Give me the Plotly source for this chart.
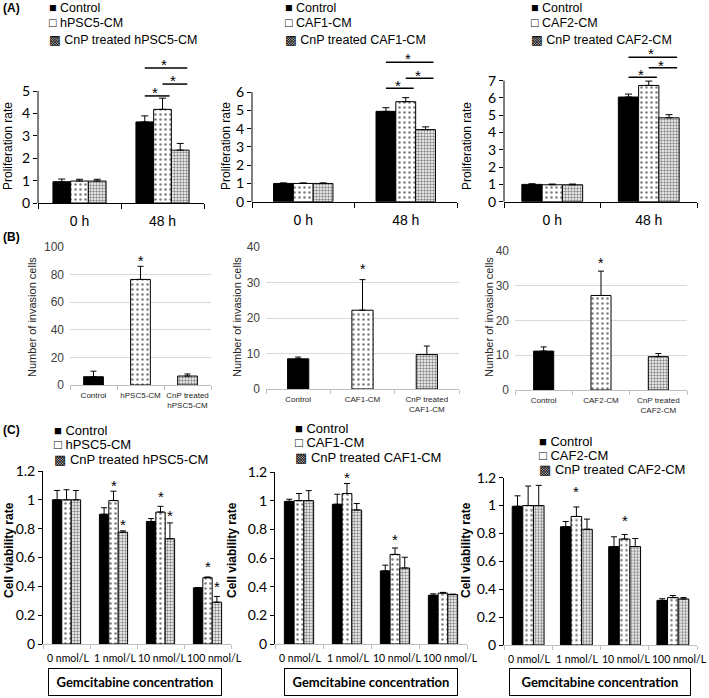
import plotly.graph_objects as go

W, H = 709, 698

# ---------------- data ----------------
time_points = ["0 h", "48 h"]
doses = ["0 nmol/L", "1 nmol/L", "10 nmol/L", "100 nmol/L"]

names_1 = ["Control", "hPSC5-CM", "CnP treated hPSC5-CM"]
names_2 = ["Control", "CAF1-CM", "CnP treated CAF1-CM"]
names_3 = ["Control", "CAF2-CM", "CnP treated CAF2-CM"]
legend_marks = ["■", "□", "▩"]

B_labels_1 = ["Control", "hPSC5-CM", "CnP treated<br>hPSC5-CM"]
B_labels_2 = ["Control", "CAF1-CM", "CnP treated<br>CAF1-CM"]
B_labels_3 = ["Control", "CAF2-CM", "CnP treated<br>CAF2-CM"]

# (A) proliferation rate
A1_control = [0.95, 3.62]
A1_control_err = [0.12, 0.27]
A1_cm = [0.98, 4.18]
A1_cm_err = [0.08, 0.50]
A1_cnp = [0.98, 2.36]
A1_cnp_err = [0.08, 0.30]

A2_control = [1.0, 4.95]
A2_control_err = [0.03, 0.20]
A2_cm = [1.0, 5.48]
A2_cm_err = [0.03, 0.22]
A2_cnp = [1.0, 3.95]
A2_cnp_err = [0.03, 0.15]

A3_control = [1.0, 6.05]
A3_control_err = [0.04, 0.17]
A3_cm = [0.98, 6.72]
A3_cm_err = [0.04, 0.25]
A3_cnp = [0.98, 4.85]
A3_cnp_err = [0.04, 0.18]

# significance brackets at 48 h: (bar i, bar j, line level, star level)
A1_sig = [(0, 1, 4.78, 5.09), (1, 2, 5.31, 5.63), (0, 2, 6.03, 6.34)]
A2_sig = [(0, 1, 6.21, 6.61), (1, 2, 6.76, 7.16), (0, 2, 7.64, 8.08)]
A3_sig = [(0, 1, 7.19, 7.60), (1, 2, 7.74, 8.13), (0, 2, 8.35, 8.81)]

# (B) number of invasion cells
B1_values = [6.0, 76.5, 6.5]
B1_err = [4.0, 9.5, 1.5]
B1_star = 93.0
B2_values = [8.5, 22.2, 9.7]
B2_err = [0.5, 8.6, 2.4]
B2_star = 35.0
B3_values = [11.2, 27.2, 9.6]
B3_err = [1.2, 7.0, 0.9]
B3_star = 37.8

# (C) cell viability rate
C1_control = [1.0, 0.90, 0.85, 0.39]
C1_control_err = [0.065, 0.045, 0.02, 0.0]
C1_cm = [1.0, 0.995, 0.915, 0.46]
C1_cm_err = [0.07, 0.065, 0.04, 0.005]
C1_cnp = [1.0, 0.775, 0.73, 0.29]
C1_cnp_err = [0.065, 0.01, 0.11, 0.04]
C1_stars = [(1, 1, 1.125), (1, 2, 0.854), (2, 1, 1.049), (2, 2, 0.919), (3, 1, 0.565), (3, 2, 0.426)]

C2_control = [0.995, 0.975, 0.51, 0.34]
C2_control_err = [0.015, 0.07, 0.04, 0.01]
C2_cm = [1.0, 1.05, 0.625, 0.355]
C2_cm_err = [0.05, 0.07, 0.045, 0.005]
C2_cnp = [1.0, 0.935, 0.53, 0.345]
C2_cnp_err = [0.07, 0.045, 0.075, 0.003]
C2_stars = [(1, 1, 1.19), (2, 1, 0.76)]

C3_control = [0.995, 0.848, 0.706, 0.32]
C3_control_err = [0.075, 0.038, 0.07, 0.012]
C3_cm = [1.0, 0.922, 0.76, 0.34]
C3_cm_err = [0.14, 0.068, 0.033, 0.015]
C3_cnp = [1.0, 0.83, 0.706, 0.33]
C3_cnp_err = [0.145, 0.073, 0.058, 0.01]
C3_stars = [(1, 1, 1.13), (2, 1, 0.925)]

# ---------------- styling helpers ----------------
ARIAL = "Liberation Sans, Arial, DejaVu Sans, sans-serif"
CALI = "Lato, Carlito, Calibri, sans-serif"

DOTS = dict(shape=".", fgcolor="black", bgcolor="white", size=5, solidity=0.2)
DENSE = dict(shape=".", fgcolor="#111111", bgcolor="white", size=3, solidity=0.5)
DOSE_LABEL_SHIFT = [1, 1, 2, 7]   # px, label nudges as laid out in the original


def bar_marker(k):
    if k == 0:
        return dict(color="black", line=dict(color="black", width=1))
    return dict(color="white", line=dict(color="black", width=1),
                pattern=DOTS if k == 1 else DENSE)


def ids(i):
    return ("x", "y") if i == 1 else (f"x{i}", f"y{i}")


def lkey(letter, i):
    return f"{letter}axis" if i == 1 else f"{letter}axis{i}"


def xdom(p0, p1):
    return [p0 / W, p1 / W]


def ydom(top_px, bottom_px):
    return [1 - bottom_px / H, 1 - top_px / H]


fig = go.Figure()
layout = {}
shapes = []
annotations = []


def grouped_panel(i, cats, series, errors, names, group_frac, cap):
    xid, yid = ids(i)
    n = len(series)
    w = group_frac / n
    xs = list(range(len(cats)))
    for k in range(n):
        fig.add_trace(go.Bar(
            x=xs, y=series[k], width=w, offset=-group_frac / 2 + k * w,
            name=names[k], showlegend=False, xaxis=xid, yaxis=yid,
            marker=bar_marker(k),
            error_y=dict(type="data", array=errors[k], arrayminus=[0] * len(xs),
                         symmetric=False, color="black", thickness=1, width=cap),
        ))

    def center(c, k):
        return c - group_frac / 2 + (k + 0.5) * w
    return center, w


def star(xid, yid, x, y, size=15):
    annotations.append(dict(xref=xid, yref=yid, x=x, y=y, text="*", showarrow=False,
                            font=dict(family=ARIAL, size=size, color="black"),
                            yshift=-4, xanchor="center", yanchor="middle"))


# ---------------- (A) panels ----------------
A_panels = [
    dict(i=1, xpx=(38, 204), zero=203.0, ppu=22.4, top=52, ntick=5,
         series=[A1_control, A1_cm, A1_cnp], errs=[A1_control_err, A1_cm_err, A1_cnp_err],
         names=names_1, sig=A1_sig, gf=0.64),
    dict(i=2, xpx=(252, 457), zero=201.7, ppu=18.25, top=45, ntick=6,
         series=[A2_control, A2_cm, A2_cnp], errs=[A2_control_err, A2_cm_err, A2_cnp_err],
         names=names_2, sig=A2_sig, gf=0.58),
    dict(i=3, xpx=(504, 697), zero=201.7, ppu=17.3, top=40, ntick=7,
         series=[A3_control, A3_cm, A3_cnp], errs=[A3_control_err, A3_cm_err, A3_cnp_err],
         names=names_3, sig=A3_sig, gf=0.63),
]

for p in A_panels:
    i = p["i"]
    xid, yid = ids(i)
    center, w = grouped_panel(i, time_points, p["series"], p["errs"], p["names"], p["gf"], 3.5)
    ncat = len(time_points)
    layout[lkey("x", i)] = dict(
        domain=xdom(*p["xpx"]), range=[-0.5, ncat - 0.5], anchor=yid, automargin=False,
        tickvals=list(range(ncat)), ticktext=time_points, ticks="", tickangle=0,
        showline=True, linecolor="black", linewidth=1, showgrid=False, zeroline=False,
        tickfont=dict(family=ARIAL, size=14, color="black"), ticklabelstandoff=5,
        minor=dict(ticks="outside", tickvals=[c - 0.5 for c in range(ncat + 1)],
                   ticklen=5, tickcolor="black", tickwidth=1, showgrid=False),
    )
    layout[lkey("y", i)] = dict(
        domain=ydom(p["top"], p["zero"]), range=[0, (p["zero"] - p["top"]) / p["ppu"]],
        anchor=xid, automargin=False, tickvals=list(range(p["ntick"] + 1)), ticks="outside",
        ticklen=4, tickcolor="black", showline=False, showgrid=False, zeroline=False,
        tickfont=dict(family=CALI, size=14, color="black"),
    )
    # y axis line only up to the last tick
    shapes.append(dict(type="line", xref=f"{xid} domain", x0=0, x1=0, yref=yid,
                       y0=0, y1=p["ntick"], line=dict(color="black", width=1)))
    for (a, b, lvl, slvl) in p["sig"]:
        x0 = center(1, a)
        x1 = center(1, b) + 0.4 * w
        shapes.append(dict(type="line", xref=xid, yref=yid, x0=x0, x1=x1, y0=lvl, y1=lvl,
                           line=dict(color="black", width=1.5)))
        star(xid, yid, (center(1, a) + center(1, b)) / 2 + 0.1 * w, slvl)

# ---------------- (B) panels ----------------
B_panels = [
    dict(i=4, xpx=(70, 211), ypx=(247, 385), ymax=100, dt=20, vals=B1_values, errs=B1_err,
         labels=B_labels_1, st=B1_star, bf=0.42),
    dict(i=5, xpx=(266, 459), ypx=(247, 389), ymax=40, dt=10, vals=B2_values, errs=B2_err,
         labels=B_labels_2, st=B2_star, bf=0.33),
    dict(i=6, xpx=(515, 687), ypx=(251, 390), ymax=40, dt=10, vals=B3_values, errs=B3_err,
         labels=B_labels_3, st=B3_star, bf=0.35),
]
for p in B_panels:
    i = p["i"]
    xid, yid = ids(i)
    bw = p["bf"]
    for k, (v, e) in enumerate(zip(p["vals"], p["errs"])):
        fig.add_trace(go.Bar(
            x=[k], y=[v], width=bw, offset=-bw / 2, xaxis=xid, yaxis=yid,
            name=p["labels"][k], showlegend=False, marker=bar_marker(k),
            error_y=dict(type="data", array=[e], arrayminus=[0], symmetric=False,
                         color="black", thickness=1, width=3),
        ))
    n = len(p["vals"])
    layout[lkey("x", i)] = dict(
        domain=xdom(*p["xpx"]), range=[-0.5, n - 0.5], anchor=yid, automargin=False,
        tickvals=list(range(n)), ticktext=p["labels"], ticks="", tickangle=0,
        showline=True, linecolor="#bfbfbf", linewidth=1, showgrid=False, zeroline=False,
        tickfont=dict(family=ARIAL, size=8, color="#262626"), ticklabelstandoff=2,
        minor=dict(ticks="outside", tickvals=[c - 0.5 for c in range(n + 1)],
                   ticklen=4, tickcolor="#bfbfbf", showgrid=False),
    )
    layout[lkey("y", i)] = dict(
        domain=ydom(*p["ypx"]), range=[0, p["ymax"]], anchor=xid, automargin=False,
        tickvals=list(range(0, p["ymax"] + 1, p["dt"])), ticks="",
        showline=False, showgrid=True, gridcolor="#d9d9d9", gridwidth=1, zeroline=False,
        tickfont=dict(family=ARIAL, size=12, color="#404040"), ticklabelstandoff=5,
    )
    star(xid, yid, 1, p["st"], size=14)

# ---------------- (C) panels ----------------
C_panels = [
    dict(i=7, xpx=(43, 231), ypx=(471, 644), series=[C1_control, C1_cm, C1_cnp],
         errs=[C1_control_err, C1_cm_err, C1_cnp_err], names=names_1, stars=C1_stars, gf=0.6),
    dict(i=8, xpx=(275, 467), ypx=(472, 644), series=[C2_control, C2_cm, C2_cnp],
         errs=[C2_control_err, C2_cm_err, C2_cnp_err], names=names_2, stars=C2_stars, gf=0.61),
    dict(i=9, xpx=(504, 697), ypx=(477.7, 645), series=[C3_control, C3_cm, C3_cnp],
         errs=[C3_control_err, C3_cm_err, C3_cnp_err], names=names_3, stars=C3_stars, gf=0.66),
]
for p in C_panels:
    i = p["i"]
    xid, yid = ids(i)
    center, w = grouped_panel(i, doses, p["series"], p["errs"], p["names"], p["gf"], 3)
    n = len(doses)
    layout[lkey("x", i)] = dict(
        domain=xdom(*p["xpx"]), range=[-0.5, n - 0.5], anchor=yid, automargin=False,
        tickvals=list(range(n)), showticklabels=False, ticks="",
        showline=True, linecolor="#bfbfbf", linewidth=1, showgrid=False, zeroline=False,
        minor=dict(ticks="outside", tickvals=[c - 0.5 for c in range(n + 1)],
                   ticklen=4, tickcolor="#bfbfbf", showgrid=False),
    )
    layout[lkey("y", i)] = dict(
        domain=ydom(*p["ypx"]), range=[0, 1.2], anchor=xid, automargin=False,
        tickvals=[0, 0.2, 0.4, 0.6, 0.8, 1.0, 1.2], ticks="outside", ticklen=4,
        tickcolor="black", showline=True, linecolor="black", linewidth=1,
        showgrid=False, zeroline=False,
        tickfont=dict(family=CALI, size=14, color="black"),
    )
    # category labels under the axis, placed at the category positions
    for c, (lab, sh) in enumerate(zip(doses, DOSE_LABEL_SHIFT)):
        annotations.append(dict(xref=xid, yref=yid, x=c, y=0, text=lab, showarrow=False,
                                xanchor="center", yanchor="middle", yshift=-14, xshift=sh,
                                font=dict(family=CALI, size=10.5, color="black")))
    for (c, k, y) in p["stars"]:
        star(xid, yid, center(c, k), y, size=15)

# ---------------- text labels ----------------
def ptext(x_px, y_px, text, size, bold=False, angle=0, family=ARIAL, color="black",
          xanchor="center"):
    annotations.append(dict(xref="paper", yref="paper", x=x_px / W, y=1 - y_px / H,
                            text=f"<b>{text}</b>" if bold else text, showarrow=False,
                            textangle=angle, xanchor=xanchor, yanchor="middle",
                            font=dict(family=family, size=size, color=color)))

ptext(1, 8, "(A)", 12, bold=True, xanchor="left")
ptext(1, 237, "(B)", 12, bold=True, xanchor="left")
ptext(1, 430, "(C)", 12, bold=True, xanchor="left")

for xp in (8, 226, 467):
    ptext(xp, 146, "Proliferation rate", 12, angle=-90)
for xp in (32, 237, 489):
    ptext(xp, 317, "Number of invasion cells", 11, angle=-90, color="#262626")
for xp in (9, 232, 466):
    ptext(xp, 550, "Cell viability rate", 12, bold=True, angle=-90)

for (x0, x1) in ((48, 222), (284, 458), (509, 691)):
    annotations.append(dict(xref="paper", yref="paper", x=(x0 + x1) / 2 / W, y=1 - 682 / H,
                            text="<b>Gemcitabine concentration</b>", showarrow=False,
                            xanchor="center", yanchor="middle", width=x1 - x0 - 4, height=24,
                            bordercolor="black", borderwidth=1, borderpad=1,
                            font=dict(family=CALI, size=13, color="black")))

# ---------------- legends (symbol + series name, one row each) ----------------
legend_specs = [
    (names_1, 47, (8, 23.5, 39.5), 12.5),
    (names_2, 283, (8, 23.5, 39.5), 12.5),
    (names_3, 529, (8, 23.5, 39.5), 12.5),
    (names_1, 52, (430, 444.5, 459), 13),
    (names_2, 293, (428.5, 443, 457.5), 13),
    (names_3, 537, (441.5, 455.5, 469.5), 13),
]
for names, x_px, rows, size in legend_specs:
    for mark, name, y_px in zip(legend_marks, names, rows):
        ptext(x_px, y_px, f"{mark} {name}", size, xanchor="left")

fig.update_layout(
    width=W, height=H, margin=dict(l=0, r=0, t=0, b=0),
    paper_bgcolor="white", plot_bgcolor="white",
    barmode="overlay", showlegend=False,
    shapes=shapes, annotations=annotations,
    **layout,
)

fig.write_html("out.html", config={"displayModeBar": False},
               post_script="document.body.style.margin='0px';")
